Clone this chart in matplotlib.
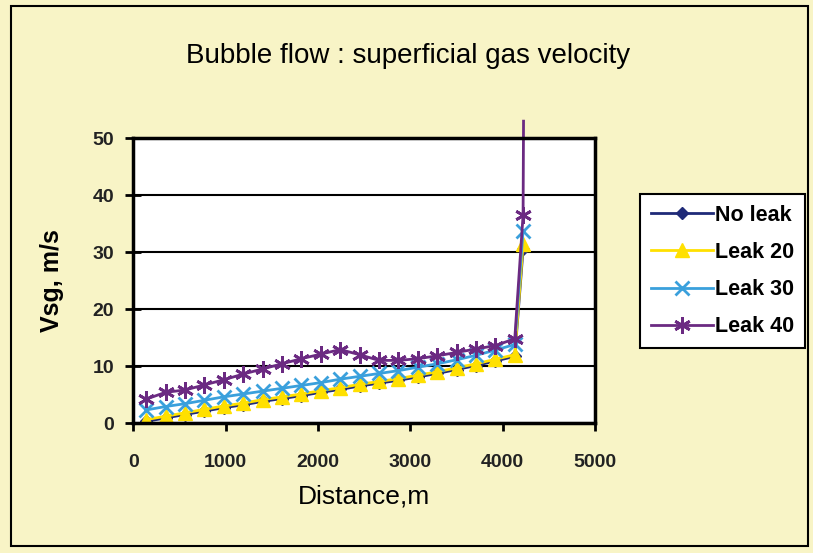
import matplotlib
matplotlib.use('Agg')
from matplotlib import pyplot as plt
from matplotlib.patches import Rectangle

plt.rcParams['font.family'] = ['Liberation Sans', 'DejaVu Sans']

# distance along the pipe, m
distance = [140, 350, 560, 770, 980, 1190, 1400, 1610, 1820, 2030,
            2240, 2450, 2660, 2870, 3080, 3290, 3500, 3710, 3920, 4130, 4220]
no_leak = [0.3, 0.9, 1.5, 2.1, 2.7, 3.2, 3.8, 4.3, 4.8, 5.4,
           5.9, 6.5, 7.0, 7.5, 8.1, 8.7, 9.4, 10.1, 10.9, 11.7, 30.5]
leak20 = [0.6, 1.2, 1.8, 2.4, 3.0, 3.5, 4.1, 4.6, 5.1, 5.7,
          6.2, 6.8, 7.3, 7.8, 8.4, 9.0, 9.7, 10.4, 11.2, 12.0, 31.5]
leak30 = [2.3, 2.9, 3.4, 4.0, 4.6, 5.1, 5.6, 6.1, 6.6, 7.1,
          7.7, 8.2, 8.7, 9.2, 9.8, 10.4, 11.1, 11.9, 12.8, 13.8, 33.8]
leak40 = [4.2, 5.4, 5.8, 6.7, 7.6, 8.6, 9.5, 10.4, 11.3, 12.1,
          12.9, 12.0, 11.0, 11.0, 11.3, 11.8, 12.4, 13.0, 13.6, 14.8, 36.5]
# leak 40 keeps rising past the top of the plot
leak40_end = [4225, 53]

fig = plt.figure(figsize=(8.13, 5.53), dpi=100)
fig.patch.set_facecolor('#f8f4c6')
fig.patches.append(Rectangle((0.014, 0.012), 0.98, 0.978, transform=fig.transFigure,
                             fill=False, edgecolor='black', linewidth=1.5))

ax = fig.add_axes([0.164, 0.235, 0.568, 0.515])
ax.set_facecolor('white')

ax.plot(distance, no_leak, color='#1f2a78', marker='D', markersize=6, lw=2, label='No leak')
ax.plot(distance, leak20, color='#ffe000', marker='^', markersize=10, lw=2, label='Leak 20')
ax.plot(distance, leak30, color='#3aa0dc', marker='x', markersize=10, mew=2, lw=2, label='Leak 30')
ax.plot(distance + [leak40_end[0]], leak40 + [leak40_end[1]], color='#6b2a82',
        marker=(6, 2, 0), markersize=12, mew=2, lw=2, markevery=list(range(len(distance))),
        clip_on=False, label='Leak 40')

ax.set_xlim(0, 5000)
ax.set_ylim(0, 50)
ax.set_xticks([0, 1000, 2000, 3000, 4000, 5000])
ax.set_yticks([0, 10, 20, 30, 40, 50])
ax.grid(axis='y', color='black', lw=1.5)
ax.set_axisbelow(True)
for s in ax.spines.values():
    s.set_linewidth(2.5)
ax.tick_params(axis='x', direction='out', width=2, length=6, labelsize=14, pad=16)
ax.tick_params(axis='y', direction='inout', width=2, length=12, labelsize=14, pad=8)
for t in ax.get_xticklabels() + ax.get_yticklabels():
    t.set_fontweight('bold')
    t.set_color('#222222')

ax.set_xlabel('Distance,m', fontsize=19, labelpad=10)
ax.set_ylabel('Vsg, m/s', fontsize=18, fontweight='bold', labelpad=20)
fig.text(0.502, 0.899, 'Bubble flow : superficial gas velocity', fontsize=20, ha='center', va='center')

leg = fig.legend(loc='center left', bbox_to_anchor=(0.787, 0.51), fontsize=15.5, frameon=True,
                 fancybox=False, edgecolor='black', framealpha=1, handlelength=2.9,
                 handletextpad=0.1, borderpad=0.5, labelspacing=0.75, borderaxespad=0)
leg.get_frame().set_linewidth(1.5)
for t in leg.get_texts():
    t.set_fontweight('bold')

fig.savefig('out.png', dpi=100, facecolor=fig.get_facecolor())
